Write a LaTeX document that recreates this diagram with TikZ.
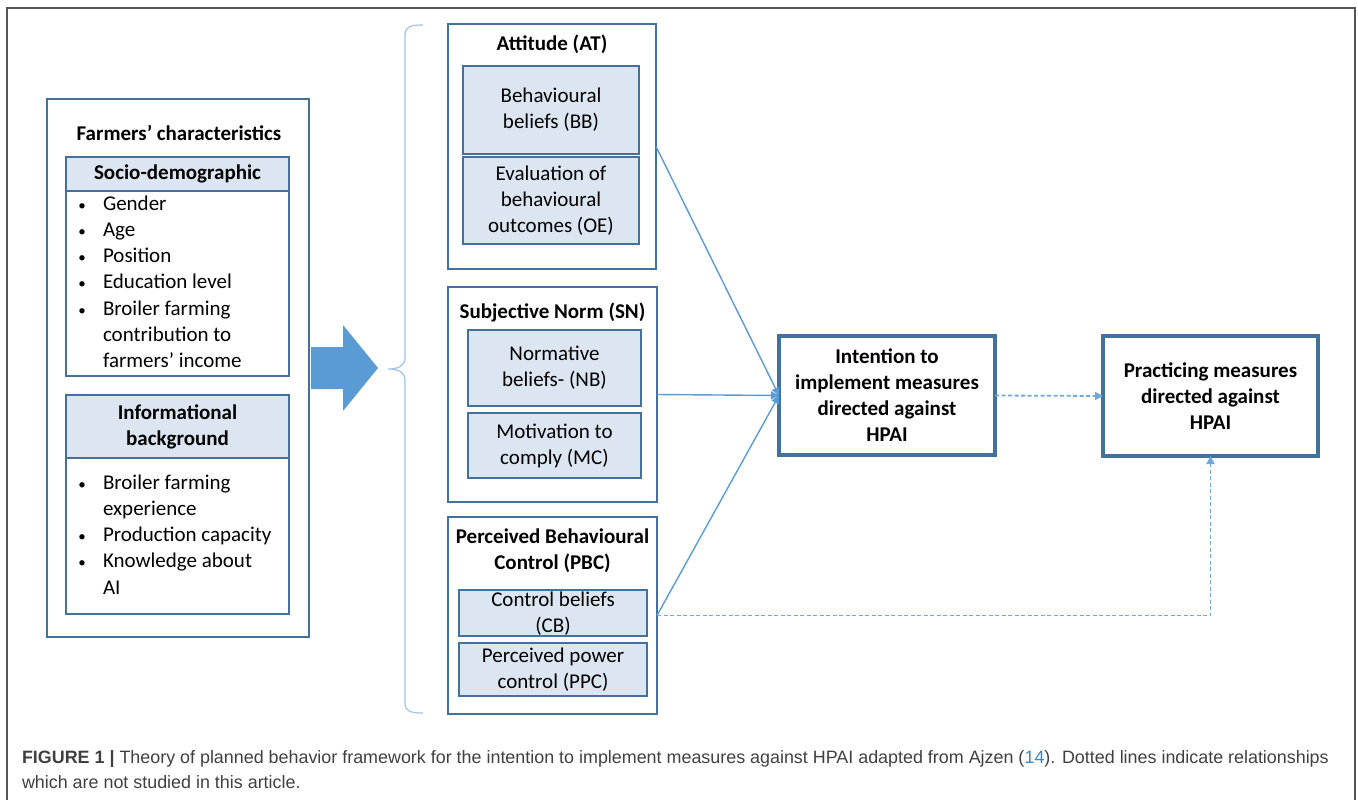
\documentclass[tikz,border=0pt]{standalone}
\usepackage{fontspec}
\setmainfont{Carlito}
\newfontfamily\capfont{Liberation Sans}
\usetikzlibrary{arrows.meta}
\definecolor{bdr}{HTML}{41719C}
\definecolor{lfill}{HTML}{DCE6F2}
\definecolor{lnk}{HTML}{5B9BD5}
\definecolor{dlnk}{HTML}{6FA8DC}
\definecolor{brc}{HTML}{9DC3E6}
\definecolor{frm}{HTML}{555555}
\definecolor{captxt}{HTML}{404040}
\definecolor{capblue}{HTML}{3D85C6}
\begin{document}
\begin{tikzpicture}[x=1pt,y=-1pt,
  every node/.style={font=\fontsize{21}{26}\selectfont, inner sep=0pt, outer sep=0pt},
  cont/.style={draw=bdr, line width=1.6pt, fill=white},
  hdr/.style={draw=bdr, line width=1.6pt, fill=lfill, align=center, font=\fontsize{21}{26}\selectfont\bfseries},
  inbox/.style={draw=bdr, line width=1.6pt, fill=lfill, align=center},
  ttl/.style={font=\fontsize{21}{26}\selectfont\bfseries, align=center},
  ln/.style={anchor=west, text height=14pt, text depth=4pt},
  bul/.style={font=\fontsize{15}{15}\selectfont, text height=14pt, text depth=4pt},
  mainbox/.style={draw=bdr, line width=3.5pt, align=center, font=\fontsize{21}{26}\selectfont\bfseries},
  link/.style={draw=lnk, line width=1.4pt, -{Triangle[width=8pt,length=8pt]}},
  dlink/.style={link, draw=dlnk, line width=1.8pt, dash pattern=on 4pt off 2.5pt},
]
\useasboundingbox (0,0) rectangle (1358,800);
% outer frame
\draw[frm, line width=1.8pt] (7,800) -- (7,8) -- (1355,8) -- (1355,800);

% Farmers' characteristics
\node[cont, minimum width=262pt, minimum height=538pt] (fc) at (178,368) {};
\node[ttl] (fc-t) at (179,133) {Farmers’ characteristics};
\node[cont, fill=none, minimum width=223pt, minimum height=219pt] (sd) at (177.5,266.5) {};
\node[hdr, minimum width=223pt, minimum height=34pt] (sd-h) at (177.5,174) {Socio-demographic};
\foreach \yy/\nm in {205/b1,231/b2,257/b3,283/b4,310/b5}
  \node[bul] (sd-\nm) at (82,\yy) {•};
\node[ln] (sd-l1) at (103,205) {Gender};
\node[ln] (sd-l2) at (103,231) {Age};
\node[ln] (sd-l3) at (103,257) {Position};
\node[ln] (sd-l4) at (103,283) {Education level};
\node[ln] (sd-l5) at (103,310) {Broiler farming};
\node[ln] (sd-l6) at (103,336) {contribution to};
\node[ln] (sd-l7) at (103,362) {farmers’ income};

\node[cont, fill=none, minimum width=223pt, minimum height=219pt] (ib) at (177.5,504.5) {};
\node[hdr, minimum width=223pt, minimum height=63pt] (ib-h) at (177.5,426.5) {Informational\\background};
\foreach \yy/\nm in {484/b1,536/b2,562/b3}
  \node[bul] (ib-\nm) at (82,\yy) {•};
\node[ln] (ib-l1) at (103,484) {Broiler farming};
\node[ln] (ib-l2) at (103,510) {experience};
\node[ln] (ib-l3) at (103,536) {Production capacity};
\node[ln] (ib-l4) at (103,562) {Knowledge about};
\node[ln] (ib-l5) at (103,589) {AI};

% big arrow
\fill[lnk] (311,347) -- (343,347) -- (343,325) -- (378,368) -- (343,411) -- (343,389) -- (311,389) -- cycle;

% brace
\draw[brc, line width=1.2pt] (423,25) .. controls (410,25) and (405,27) .. (405,35) -- (405,358)
  .. controls (405,366) and (398,369) .. (388,369) .. controls (398,369) and (405,372) .. (405,380)
  -- (405,703) .. controls (405,711) and (410,713) .. (423,713);

% Attitude
\node[cont, minimum width=208pt, minimum height=245pt] (at) at (552,146.5) {};
\node[ttl] (at-t) at (552,44) {Attitude (AT)};
\node[inbox, minimum width=176pt, minimum height=88pt] (bb) at (551,110) {Behavioural\\beliefs (BB)};
\node[inbox, minimum width=176pt, minimum height=87pt] (oe) at (551,200.5) {Evaluation of\\behavioural\\outcomes (OE)};

% Subjective norm
\node[cont, minimum width=209pt, minimum height=215pt] (sn) at (552.5,394.5) {};
\node[ttl] (sn-t) at (552.5,312) {Subjective Norm (SN)};
\node[inbox, minimum width=173pt, minimum height=76pt] (nb) at (554.5,368) {Normative\\beliefs- (NB)};
\node[inbox, minimum width=173pt, minimum height=65pt] (mc) at (554.5,445.5) {Motivation to\\comply (MC)};

% PBC
\node[cont, minimum width=209pt, minimum height=197pt] (pbc) at (552.5,615.5) {};
\node[ttl] (pbc-t) at (552.5,551) {Perceived Behavioural\\Control (PBC)};
\node[inbox, minimum width=188pt, minimum height=46pt] (cb) at (553,613) {};
\node[align=center] (cb-t) at (553,613.5) {Control beliefs\\(CB)};
\node[inbox, minimum width=188pt, minimum height=53pt] (ppc) at (553,669.5) {Perceived power\\control (PPC)};

% outcome boxes
\node[mainbox, minimum width=216pt, minimum height=119pt] (int) at (887,395.5) {Intention to\\implement measures\\directed against\\HPAI};
\node[mainbox, minimum width=215pt, minimum height=120pt] (pr) at (1210.5,396) {Practicing measures\\directed against\\HPAI};

% connectors
\draw[link] (at.east) -- (int.west);
\draw[link] (sn.east) -- (int.west);
\draw[link] (pbc.east) -- (int.west);
\draw[dlink] (int.east) -- (pr.west);
\draw[dlink] (pbc.east) -| (pr.south);

% caption
\node[anchor=base west, font=\capfont\fontsize{17.9}{25}\selectfont, text=captxt] (cap1) at (22,763)
  {\textbf{FIGURE 1 |} Theory of planned behavior framework for the intention to implement measures against HPAI adapted from Ajzen (\textcolor{capblue}{14}). Dotted lines indicate relationships};
\node[anchor=base west, font=\capfont\fontsize{17.9}{25}\selectfont, text=captxt] (cap2) at (22,788)
  {which are not studied in this article.};
\end{tikzpicture}
\end{document}
